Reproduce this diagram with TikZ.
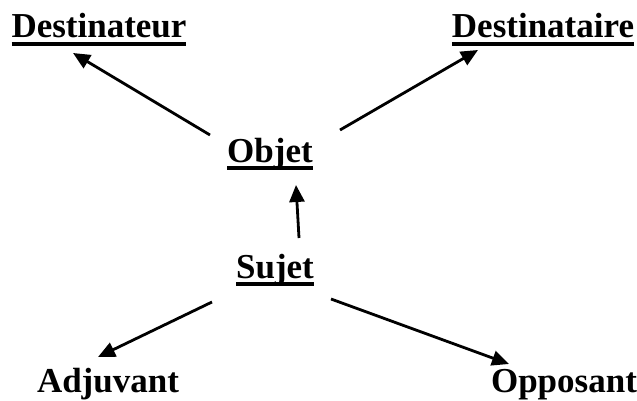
\documentclass[tikz,border=0pt]{standalone}
\usepackage{fontspec}
\setmainfont{Liberation Serif}
\usetikzlibrary{arrows.meta}
% underline drawn as a thick rule under the word
\newcommand{\souligne}[1]{\setbox0\hbox{#1}\rlap{\rule[-8pt]{\wd0}{4pt}}\box0}

\begin{document}
\begin{tikzpicture}[x=1pt, y=-1pt,
    mot/.style={anchor=base, inner sep=0pt, font=\fontsize{35}{40}\selectfont\bfseries},
    fleche/.style={line width=2.8pt, -{Triangle[length=17pt, width=15pt]}}]
    % Frame of the picture
    \useasboundingbox (0,0) rectangle (637,401);

    % --- Words of the scheme ---
    \node[mot] (destinateur) at (99,38) {\souligne{Destinateur}};
    \node[mot] (destinataire) at (543,38) {\souligne{Destinataire}};
    \node[mot] (objet) at (270,162) {\souligne{Objet}};
    \node[mot] (sujet) at (275,278) {\souligne{Sujet}};
    \node[mot] (adjuvant) at (108,392) {Adjuvant};
    \node[mot] (opposant) at (564,392) {Opposant};

    % --- Arrows ---
    \draw[fleche] ([shift={(-60,-27)}]objet.base) -- ([shift={(-26,15)}]destinateur.base); % Objet to Destinateur
    \draw[fleche] ([shift={(70,-32)}]objet.base) -- ([shift={(-65,12)}]destinataire.base); % Objet to Destinataire
    \draw[fleche] ([shift={(24,-40)}]sujet.base) -- ([shift={(26,23)}]objet.base); % Sujet to Objet
    \draw[fleche] ([shift={(-63,24)}]sujet.base) -- ([shift={(-10,-35)}]adjuvant.base); % Sujet to Adjuvant
    \draw[fleche] ([shift={(56,21)}]sujet.base) -- ([shift={(-55,-28)}]opposant.base); % Sujet to Opposant
\end{tikzpicture}
\end{document}
